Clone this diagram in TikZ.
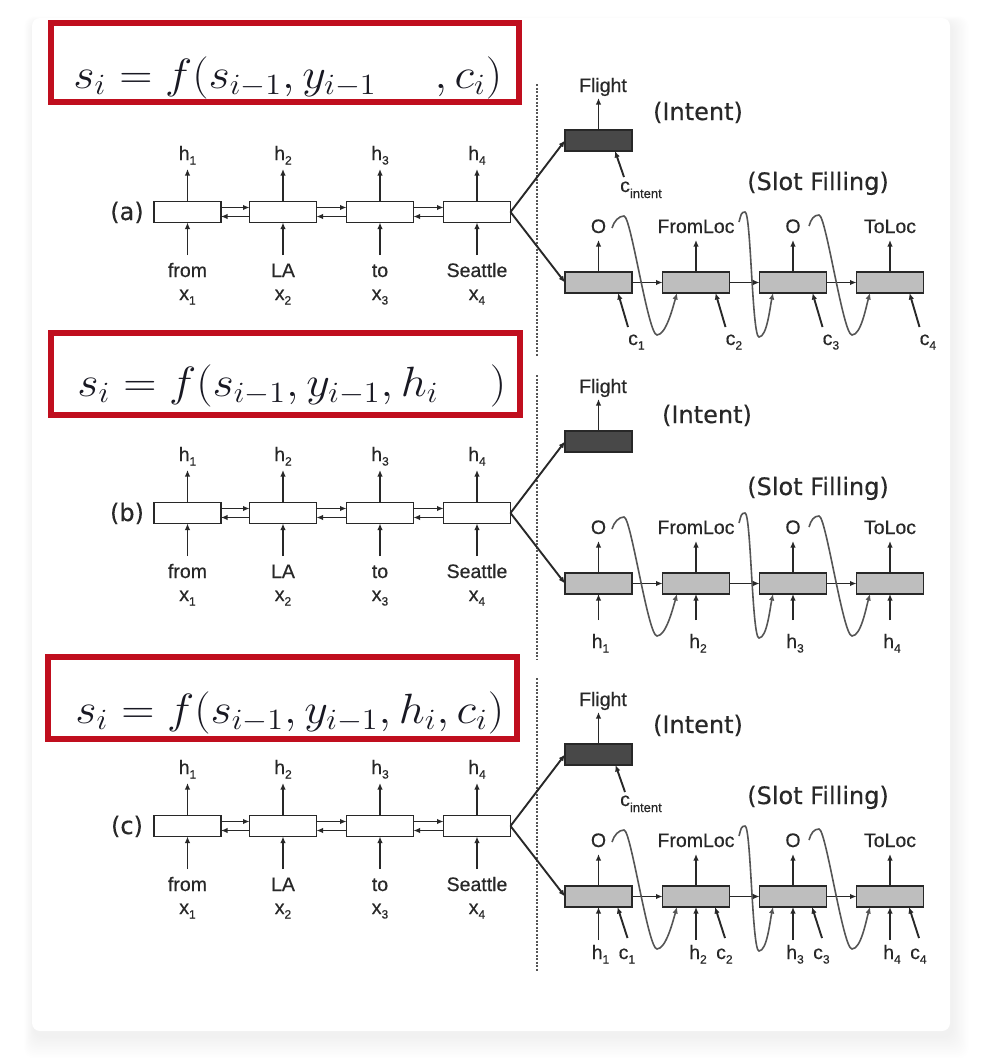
\documentclass[tikz,border=0pt]{standalone}
\usepackage{fontspec}
\usetikzlibrary{arrows.meta}
\newfontfamily\labfam[FakeBold=0.5]{Liberation Sans}
\newfontfamily\parfam[FakeBold=0.4]{DejaVu Sans}
\definecolor{redbox}{RGB}{192,14,30}
\definecolor{txtc}{RGB}{40,40,40}
\definecolor{linec}{RGB}{40,40,40}
\definecolor{darkfill}{RGB}{72,72,72}
\definecolor{lightfill}{RGB}{190,190,190}
\definecolor{curvec}{RGB}{85,85,85}
\definecolor{eqc}{RGB}{25,25,35}
\newcommand\labf{\labfam\fontsize{19.5}{22}\selectfont}
\newcommand\parf{\parfam\fontsize{24}{28}\selectfont}
\newcommand\eqf{\fontsize{20.74}{24}\selectfont}
\newcommand\lsub[1]{\raisebox{-4.5pt}{\fontsize{12}{14}\selectfont #1}}
\newcommand\lsubi[1]{\raisebox{-6pt}{\fontsize{13}{14}\selectfont #1}}
\tikzset{
  cell/.style={draw=linec, line width=1.9pt, minimum width=67pt, minimum height=21pt, inner sep=0pt, outer sep=0pt},
  enc/.style={cell, fill=white},
  intcell/.style={cell, fill=darkfill},
  slotcell/.style={cell, fill=lightfill},
  arr/.style={draw=linec, line width=1.9pt, -{Latex[length=6.5pt,width=5.5pt]}},
  crv/.style={draw=curvec, line width=1.6pt, -{Latex[length=6.5pt,width=5.5pt]}},
  lbl/.style={font=\labf, text=txtc, inner sep=0pt, anchor=base},
  plbl/.style={font=\parf, text=txtc, inner sep=0pt, anchor=base},
  redrect/.style={draw=redbox, line width=6pt},
  eq/.style={font=\eqf, text=eqc, inner sep=0pt, anchor=base west, xscale=2.22, yscale=2.04, transform shape},
  sepline/.style={draw=curvec, line width=1.6pt, dash pattern=on 2pt off 1.5pt},
}
% common part of a panel: #1 prefix, #2 vertical offset
\newcommand\basepanel[2]{%
\begin{scope}[shift={(0,#2)}]
  \foreach \i/\x/\w in {1/187.5/from,2/283/LA,3/380/to,4/477/Seattle}{
    \node[enc] (#1e\i) at (\x,212) {};
    \coordinate (#1eo\i) at (\x,169);
    \draw[arr] (#1e\i.north) -- (#1eo\i);
    \node[lbl] (#1h\i) at (\x,160) {h\lsub{\i}};
    \coordinate (#1ei\i) at (\x,255);
    \draw[arr] (#1ei\i) -- (#1e\i.south);
    \node[lbl] (#1w\i) at (\x,277) {\w};
    \node[lbl] (#1x\i) at (\x,300) {x\lsub{\i}};
  }
  \foreach \i/\j in {1/2,2/3,3/4}{
    \draw[arr] ([yshift=4.5pt]#1e\i.east) -- ([yshift=4.5pt]#1e\j.west);
    \draw[arr] ([yshift=-4.5pt]#1e\j.west) -- ([yshift=-4.5pt]#1e\i.east);
  }
  \node[intcell] (#1int) at (598.5,140.5) {};
  \draw[arr] (#1e4.east) -- (#1int.west);
  \coordinate (#1fo) at (598.5,98);
  \draw[arr] (#1int.north) -- (#1fo);
  \node[lbl] (#1fl) at (603,92) {Flight};
  \foreach \i/\x/\t in {1/598.5/O,2/696/FromLoc,3/793/O,4/890/ToLoc}{
    \node[slotcell] (#1s\i) at (\x,282.5) {};
    \coordinate (#1so\i) at (\x,240);
    \draw[arr] (#1s\i.north) -- (#1so\i);
    \node[lbl] (#1y\i) at (\x,233) {\t};
  }
  \draw[arr] (#1e4.east) -- (#1s1.west);
  \foreach \i/\j in {1/2,2/3,3/4}{
    \draw[arr] (#1s\i.east) -- (#1s\j.west);
  }
  \coordinate (#1ya) at (612,228); \coordinate (#1pa) at (624,216); \coordinate (#1ta) at (657,335);
  \draw[crv] (#1ya) .. controls +(2,-7) and +(-5,0) .. (#1pa) .. controls +(7,0) and +(-9,0) .. (#1ta) .. controls +(9,0) and +(-4,14) .. ([xshift=-19pt]#1s2.south);
  \coordinate (#1yb) at (739,222); \coordinate (#1pb) at (745,212); \coordinate (#1tb) at (759,337);
  \draw[crv] (#1yb) .. controls +(2,-7) and +(-4,0) .. (#1pb) .. controls +(6,0) and +(-7,0) .. (#1tb) .. controls +(8,0) and +(-3,14) .. ([xshift=-20pt]#1s3.south);
  \coordinate (#1yc) at (809,226); \coordinate (#1pc) at (819,215); \coordinate (#1tc) at (852,335);
  \draw[crv] (#1yc) .. controls +(2,-7) and +(-5,0) .. (#1pc) .. controls +(7,0) and +(-9,0) .. (#1tc) .. controls +(9,0) and +(-4,14) .. ([xshift=-20pt]#1s4.south);
\end{scope}}
\begin{document}
\begin{tikzpicture}[x=1pt,y=-1pt]
\useasboundingbox (0,0) rectangle (998,1060);
\fill[white] (0,0) rectangle (998,1060);
\foreach \k in {1,...,14}{
  \fill[black,opacity=0.005,rounded corners=10pt] ({32-\k*0.7+2},{18-\k*0.5+5}) rectangle ({950+\k*1.2+2},{1031+\k*1.6+5});
}
\fill[white,rounded corners=8pt] (32,18) rectangle (950,1031);

% ---------------- panel (a)
\draw[redrect] (51,23) rectangle (519,102);
\node[eq] (eqa) at (73,88) {$s_i = f(s_{i-1}, y_{i-1}\phantom{, h_i}, c_i)$};
\draw[sepline] (537,84) -- (537,357);
\basepanel{a}{0}
\node[plbl] (pa) at (127,220) {(a)};
\node[plbl] (ainl) at (698,120) {(Intent)};
\node[plbl] (asfl) at (818,190) {(Slot Filling)};
\node[lbl, anchor=base west] (aci) at (620,192) {c\lsubi{intent}};
\coordinate (acis) at (624,177);
\draw[arr] (acis) -- ([xshift=16.5pt]aint.south);
\foreach \i/\x in {1/598.5,2/696,3/793,4/890}{
  \coordinate (acs\i) at (\x+29.5,327);
  \draw[arr] (acs\i) -- ([xshift=19.5pt]as\i.south);
  \node[lbl, anchor=base west] (acl\i) at (\x+29.5,345) {c\lsub{\i}};
}

% ---------------- panel (b)
\draw[redrect] (51,333) rectangle (520,415);
\node[eq] (eqb) at (77,396) {$s_i = f(s_{i-1}, y_{i-1}, h_i\phantom{, c_i})$};
\draw[sepline] (537,375) -- (537,660);
\basepanel{b}{301}
\node[plbl] (pb) at (127,521) {(b)};
\node[plbl] (binl) at (707,423) {(Intent)};
\node[plbl] (bsfl) at (818,495) {(Slot Filling)};
\foreach \i/\x in {1/598.5,2/696,3/793,4/890}{
  \coordinate (bhs\i) at (\x,620);
  \draw[arr] (bhs\i) -- (bs\i.south);
  \node[lbl] (bhl\i) at (\x+2,648) {h\lsub{\i}};
}

% ---------------- panel (c)
\draw[redrect] (48,657) rectangle (517,739);
\node[eq] (eqc) at (75,723) {$s_i = f(s_{i-1}, y_{i-1}, h_i, c_i)$};
\draw[sepline] (537,678) -- (537,972);
\basepanel{c}{614}
\node[plbl] (pc) at (127,834) {(c)};
\node[plbl] (cinl) at (698,733) {(Intent)};
\node[plbl] (csfl) at (818,804) {(Slot Filling)};
\node[lbl, anchor=base west] (cci) at (620,806) {c\lsubi{intent}};
\coordinate (ccis) at (625,792);
\draw[arr] (ccis) -- ([xshift=17pt]cint.south);
\foreach \i/\x in {1/598.5,2/696,3/793,4/890}{
  \coordinate (chs\i) at (\x,940);
  \draw[arr] (chs\i) -- (cs\i.south);
  \node[lbl] (chl\i) at (\x+2,959) {h\lsub{\i}};
  \coordinate (ccs\i) at (\x+29,938);
  \draw[arr] (ccs\i) -- ([xshift=19pt]cs\i.south);
  \node[lbl, anchor=base west] (ccl\i) at (\x+20,959) {c\lsub{\i}};
}
\end{tikzpicture}
\end{document}
